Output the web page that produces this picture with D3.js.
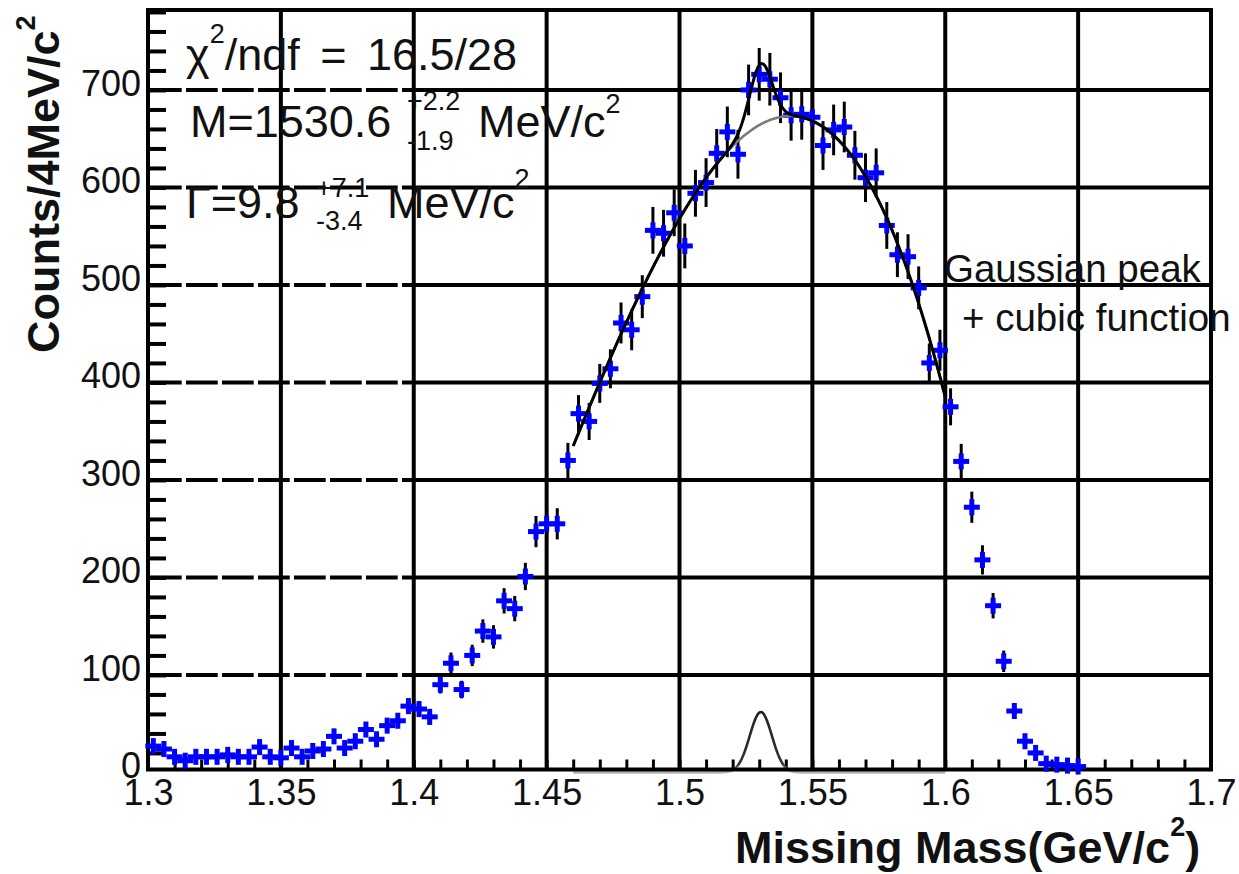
<!DOCTYPE html>
<html>
<head>
<meta charset="utf-8">
<script src="https://cdn.jsdelivr.net/npm/d3@7/dist/d3.min.js"></script>
<style>
  html, body { margin: 0; padding: 0; background: #fff; }
  svg { display: block; }
  text { font-family: "Liberation Sans", Arial, Helvetica, sans-serif; }
</style>
</head>
<body>
<svg id="chart" width="1239" height="874"></svg>
<script>
// Missing-mass spectrum, 4 MeV bins (bin centres in GeV/c^2)
const massBins = [
  1.302, 1.306, 1.310, 1.314, 1.318, 1.322, 1.326, 1.330, 1.334, 1.338,
  1.342, 1.346, 1.350, 1.354, 1.358, 1.362, 1.366, 1.370, 1.374, 1.378,
  1.382, 1.386, 1.390, 1.394, 1.398, 1.402, 1.406, 1.410, 1.414, 1.418,
  1.422, 1.426, 1.430, 1.434, 1.438, 1.442, 1.446, 1.450, 1.454, 1.458,
  1.462, 1.466, 1.470, 1.474, 1.478, 1.482, 1.486, 1.490, 1.494, 1.498,
  1.502, 1.506, 1.510, 1.514, 1.518, 1.522, 1.526, 1.530, 1.534, 1.538,
  1.542, 1.546, 1.550, 1.554, 1.558, 1.562, 1.566, 1.570, 1.574, 1.578,
  1.582, 1.586, 1.590, 1.594, 1.598, 1.602, 1.606, 1.610, 1.614, 1.618,
  1.622, 1.626, 1.630, 1.634, 1.638, 1.642, 1.646, 1.650
];

// Counts per bin
const counts = [
  27, 24, 16, 12, 16, 16, 16, 18, 16, 16,
  26, 16, 15, 25, 16, 22, 24, 37, 25, 32,
  44, 34, 48, 53, 68, 65, 57, 90, 112, 85,
  120, 145, 139, 176, 168, 201, 247, 255, 255, 320,
  368, 360, 399, 414, 461, 454, 488, 556, 553, 574,
  540, 594, 605, 635, 657, 634, 700, 716, 711, 692,
  674, 675, 672, 643, 659, 662, 633, 610, 615, 561,
  531, 529, 497, 420, 433, 375, 319, 272, 218, 171,
  114, 63, 32, 20, 9, 8, 7, 6
];

// Statistical error on each bin
const countErrors = [
  5, 5, 4, 3, 4, 4, 4, 4, 4, 4,
  5, 4, 4, 5, 4, 5, 5, 6, 5, 6,
  7, 6, 7, 7, 8, 8, 8, 9, 11, 9,
  11, 12, 12, 13, 13, 14, 16, 16, 16, 18,
  19, 19, 20, 20, 21, 21, 22, 24, 24, 24,
  23, 24, 25, 25, 26, 25, 26, 27, 27, 26,
  26, 26, 26, 25, 26, 26, 25, 25, 25, 24,
  23, 23, 22, 20, 21, 19, 18, 16, 15, 13,
  11, 8, 6, 4, 3, 3, 3, 2
];

// Axis ticks
const xTicks = [1.3, 1.35, 1.4, 1.45, 1.5, 1.55, 1.6, 1.65, 1.7];
const xTickLabels = ["1.3", "1.35", "1.4", "1.45", "1.5", "1.55", "1.6", "1.65", "1.7"];
const yTicks = [0, 100, 200, 300, 400, 500, 600, 700];
const yTickLabels = ["0", "100", "200", "300", "400", "500", "600", "700"];

// Fit: Gaussian peak + cubic background (masses in MeV/c^2)
const fitRange = [1.46, 1.60];
const peakMass = 1530.6;
const peakWidth = 9.8;      // FWHM
const peakHeight = 62;
const bgOrigin = 1530;      // cubic expanded around this mass
const bgCoeffs = [663.9, 1.555, -0.06205, -0.0002443];

const svg = d3.select("#chart");
svg.append("rect").attr("width", 1239).attr("height", 874).attr("fill", "#fff");

const x = d3.scaleLinear().domain([1.3, 1.7]).range([148, 1211]);
const y = d3.scaleLinear().domain([3, 782]).range([769.5, 10]);

const [xL, xR] = x.range();
const [yB, yT] = y.range();

// ---- grid ----
const grid = svg.append("g");
grid.selectAll("line.v")
  .data(xTicks.slice(1, -1))
  .join("line")
  .attr("class", "v")
  .attr("x1", d => x(d)).attr("x2", d => x(d))
  .attr("y1", yT).attr("y2", yB)
  .attr("stroke", "#000").attr("stroke-width", 4);

const hLines = yTicks.filter(v => v > 0);
grid.selectAll("line.hd")
  .data(hLines)
  .join("line")
  .attr("class", "hd")
  .attr("x1", xL + 2).attr("x2", x(1.4))
  .attr("y1", d => y(d)).attr("y2", d => y(d))
  .attr("stroke", "#000").attr("stroke-width", 4)
  .attr("stroke-dasharray", "31.7,4.3");
grid.selectAll("line.hs")
  .data(hLines)
  .join("line")
  .attr("class", "hs")
  .attr("x1", x(1.4)).attr("x2", xR)
  .attr("y1", d => y(d)).attr("y2", d => y(d))
  .attr("stroke", "#000").attr("stroke-width", 4);

// ---- minor ticks ----
const yMinor = svg.append("g")
  .attr("transform", `translate(${xL},0)`)
  .call(d3.axisLeft(y).tickValues(d3.range(20, 781, 20)).tickSize(-18).tickFormat(""));
yMinor.select(".domain").remove();
yMinor.selectAll("line").attr("stroke", "#000").attr("stroke-width", 4);

const xMinor = svg.append("g")
  .attr("transform", `translate(0,${yB})`)
  .call(d3.axisBottom(x).tickValues(d3.range(1.31, 1.695, 0.01)).tickSize(-10).tickFormat(""));
xMinor.select(".domain").remove();
xMinor.selectAll("line").attr("stroke", "#000").attr("stroke-width", 3);

// ---- Gaussian component (drawn first so the frame sits over its baseline) ----
const sigma = peakWidth / (2 * Math.sqrt(2 * Math.LN2));
const gauss = m => peakHeight * Math.exp(-0.5 * Math.pow((m * 1000 - peakMass) / sigma, 2));
const cubic = m => {
  const u = m * 1000 - bgOrigin;
  return bgCoeffs[0] + bgCoeffs[1] * u + bgCoeffs[2] * u * u + bgCoeffs[3] * u * u * u;
};
const fitX = d3.range(fitRange[0], fitRange[1] + 1e-9, 0.0005);

const defs = svg.append("defs");
const gGrad = defs.append("linearGradient")
  .attr("id", "peakStroke")
  .attr("gradientUnits", "userSpaceOnUse")
  .attr("x1", 0).attr("x2", 0)
  .attr("y1", y(peakHeight)).attr("y2", y(0));
gGrad.append("stop").attr("offset", "0%").attr("stop-color", "#222");
gGrad.append("stop").attr("offset", "86%").attr("stop-color", "#333");
gGrad.append("stop").attr("offset", "100%").attr("stop-color", "#b4b4b4");

svg.append("path")
  .datum(fitX)
  .attr("fill", "none")
  .attr("stroke", "url(#peakStroke)")
  .attr("stroke-width", 2.6)
  .attr("d", d3.line().x(d => x(d)).y(d => y(gauss(d))));

// ---- frame ----
svg.append("rect")
  .attr("x", xL).attr("y", yT)
  .attr("width", xR - xL).attr("height", yB - yT)
  .attr("fill", "none").attr("stroke", "#000").attr("stroke-width", 4);

// ---- tick labels ----
const yLab = svg.append("g")
  .attr("transform", `translate(${xL},0)`)
  .call(d3.axisLeft(y).tickValues(yTicks).tickSize(0).tickPadding(7)
    .tickFormat((d, i) => yTickLabels[i]));
yLab.select(".domain").remove();
yLab.selectAll("text")
  .attr("font-size", 36).attr("fill", "#111").attr("dy", "0.15em")
  .style("font-family", '"Liberation Sans", Arial, sans-serif');

const xLab = svg.append("g")
  .attr("transform", `translate(0,${yB})`)
  .call(d3.axisBottom(x).tickValues(xTicks).tickSize(0).tickPadding(10)
    .tickFormat((d, i) => xTickLabels[i]));
xLab.select(".domain").remove();
xLab.selectAll("text")
  .attr("font-size", 36).attr("fill", "#111")
  .style("font-family", '"Liberation Sans", Arial, sans-serif');

// ---- data points ----
const points = massBins.map((m, i) => ({ m, c: counts[i], e: countErrors[i] }));

svg.append("g").selectAll("line")
  .data(points)
  .join("line")
  .attr("x1", d => x(d.m)).attr("x2", d => x(d.m))
  .attr("y1", d => y(d.c - d.e)).attr("y2", d => y(d.c + d.e))
  .attr("stroke", "#000").attr("stroke-width", 3);

const mk = svg.append("g").attr("fill", "#0000ff");
mk.selectAll("rect.h")
  .data(points)
  .join("rect")
  .attr("class", "h")
  .attr("x", d => x(d.m) - 8).attr("y", d => y(d.c) - 2.5)
  .attr("width", 16).attr("height", 5);
mk.selectAll("rect.v")
  .data(points)
  .join("rect")
  .attr("class", "v")
  .attr("x", d => x(d.m) - 2.5).attr("y", d => y(d.c) - 8)
  .attr("width", 5).attr("height", 16);

// ---- fit curves ----
svg.append("path")
  .datum(fitX)
  .attr("fill", "none").attr("stroke", "#7a7a7a").attr("stroke-width", 2.6)
  .attr("d", d3.line().x(d => x(d)).y(d => y(cubic(d))));

svg.append("path")
  .datum(fitX)
  .attr("fill", "none").attr("stroke", "#000").attr("stroke-width", 3)
  .attr("d", d3.line().x(d => x(d)).y(d => y(cubic(d) + gauss(d))));

// ---- fit results ----
const stats = svg.append("g").attr("fill", "#111").attr("font-size", 45);

const l1 = stats.append("text").attr("x", 186).attr("y", 70).style("word-spacing", "8px");
l1.append("tspan").text("\u03C7");
l1.append("tspan").attr("font-size", 27).attr("dy", -27).text("2");
l1.append("tspan").attr("dy", 27).text("/ndf = 16.5/28");

stats.append("text").attr("x", 190).attr("y", 137).text("M=1530.6");
stats.append("text").attr("x", 407).attr("y", 110).attr("font-size", 27).text("+2.2");
stats.append("text").attr("x", 407).attr("y", 150).attr("font-size", 27).text("-1.9");
const l2 = stats.append("text").attr("x", 478).attr("y", 137);
l2.append("tspan").text("MeV/c");
l2.append("tspan").attr("font-size", 27).attr("dy", -24).text("2");

stats.append("text").attr("x", 186).attr("y", 218).text("\u0393=9.8");
stats.append("text").attr("x", 316).attr("y", 197).attr("font-size", 27).text("+7.1");
stats.append("text").attr("x", 316).attr("y", 230).attr("font-size", 27).text("-3.4");
const l3 = stats.append("text").attr("x", 387).attr("y", 218);
l3.append("tspan").text("MeV/c");
l3.append("tspan").attr("font-size", 27).attr("dy", -30).text("2");

// ---- legend ----
const leg = svg.append("g").attr("fill", "#111").attr("font-size", 38.5);
leg.append("text").attr("x", 944).attr("y", 282).text("Gaussian peak");
leg.append("text").attr("x", 962).attr("y", 331).text("+ cubic function");

// ---- axis titles ----
const xt = svg.append("text")
  .attr("x", 735).attr("y", 863)
  .attr("font-size", 45).attr("font-weight", "bold").attr("fill", "#111");
xt.append("tspan").text("Missing Mass(GeV/c");
xt.append("tspan").attr("font-size", 27).attr("dy", -27).text("2");
xt.append("tspan").attr("dy", 27).text(")");

const yt = svg.append("text")
  .attr("transform", "translate(59,353) rotate(-90)")
  .attr("font-size", 45).attr("font-weight", "bold").attr("fill", "#111");
yt.append("tspan").text("Counts/4MeV/c");
yt.append("tspan").attr("font-size", 27).attr("dy", -24).text("2");
</script>
</body>
</html>
